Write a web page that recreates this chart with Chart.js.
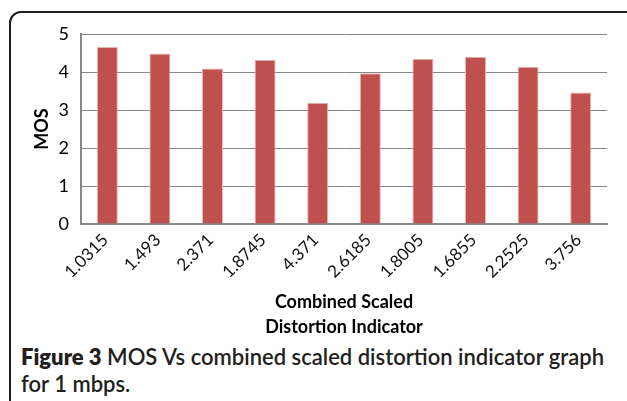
<!DOCTYPE html>
<html>
<head>
<meta charset="utf-8">
<script src="https://cdn.jsdelivr.net/npm/chart.js@4.4.1/dist/chart.umd.min.js"></script>
<style>
  html, body { margin: 0; padding: 0; background: #fff; }
  body { width: 627px; height: 401px; position: relative; overflow: hidden; font-family: Lato, sans-serif; }
  #frame {
    position: absolute; left: 9px; top: 11px; width: 640px; height: 420px;
    border: 2px solid #1c1c1c; border-radius: 12px; box-sizing: border-box;
  }
  #wrap { position: absolute; left: 0; top: 0; }
  #caption {
    position: absolute; left: 21px; top: 343px; width: 604px; white-space: nowrap;
    font-size: 22px; line-height: 27px; color: #231f20; font-weight: 600;
  }
  #caption b { font-weight: 800; }
</style>
</head>
<body>
<div id="frame"></div>
<div id="wrap"><canvas id="mos-chart" width="627" height="339"></canvas></div>
<div id="caption"><b>Figure 3</b> MOS Vs combined scaled distortion indicator graph<br>for 1 mbps.</div>

<script>
// data
const csdiLabels = ["1.0315", "1.493", "2.371", "1.8745", "4.371", "2.6185", "1.8005", "1.6855", "2.2525", "3.756"];
const mosValues = [4.66, 4.49, 4.09, 4.32, 3.19, 3.97, 4.35, 4.40, 4.14, 3.46];
const yTicks = [0, 1, 2, 3, 4, 5];

Chart.defaults.font.family = "Lato, sans-serif";
Chart.defaults.color = "#000";

const ctx = document.getElementById("mos-chart").getContext("2d");

new Chart(ctx, {
  type: "bar",
  data: {
    labels: csdiLabels,
    datasets: [{
      label: "MOS",
      data: mosValues,
      backgroundColor: "#c0504d",
      borderColor: "#e9b9b8",
      borderWidth: 1,
      barPercentage: 0.4,
      categoryPercentage: 1.0
    }]
  },
  options: {
    responsive: false,
    animation: false,
    devicePixelRatio: 1,
    layout: {
      padding: { left: 31, right: 20, top: 34, bottom: 0 }
    },
    plugins: {
      legend: { display: false },
      tooltip: { enabled: false }
    },
    scales: {
      x: {
        grid: { drawOnChartArea: false, drawTicks: false },
        border: { display: true, color: "#878787", width: 2 },
        ticks: {
          minRotation: 45,
          maxRotation: 45,
          padding: 6,
          labelOffset: -2,
          color: "#111",
          font: { size: 17 }
        },
        title: {
          display: true,
          text: ["Combined Scaled", "Distortion Indicator"],
          font: { size: 18, weight: "bold", lineHeight: 1.35 },
          padding: 0,
          color: "#000"
        },
        afterFit: function(scale) {
          scale.height = 115;
        }
      },
      y: {
        min: 0,
        max: 5,
        afterBuildTicks: function(scale) {
          scale.ticks = yTicks.map(v => ({ value: v }));
        },
        grid: { color: "#878787", lineWidth: 1, drawTicks: false },
        border: { display: true, color: "#878787", width: 2 },
        ticks: {
          padding: 12,
          color: "#000",
          font: { size: 18 }
        },
        title: {
          display: true,
          text: "MOS",
          font: { size: 18, weight: "bold" },
          padding: 0,
          color: "#000"
        },
        afterFit: function(scale) {
          scale.width = 50;
        }
      }
    }
  }
});
</script>
</body>
</html>
